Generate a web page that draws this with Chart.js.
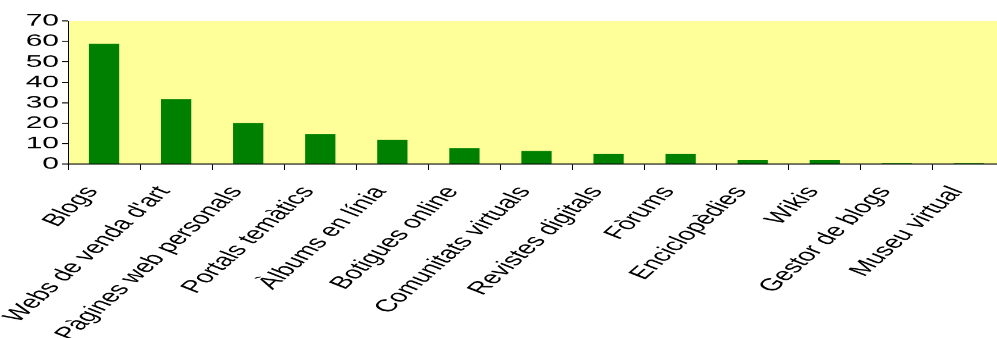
<!DOCTYPE html>
<html>
<head>
<meta charset="utf-8">
<script src="https://cdn.jsdelivr.net/npm/chart.js@4/dist/chart.umd.min.js"></script>
<style>
html,body{margin:0;padding:0;background:#fff;overflow:hidden;}
#outer{width:997px;height:338px;overflow:hidden;position:relative;}
#wrap{width:1005px;height:581px;transform:scaleY(0.58176);transform-origin:0 0;}
canvas{display:block;}
</style>
</head>
<body>
<div id="outer"><div id="wrap"><canvas id="c" width="1005" height="581"></canvas></div></div>
<script>
const categories = ["Blogs","Webs de venda d'art","Pàgines web personals","Portals temàtics","Àlbums en línia","Botigues online","Comunitats virtuals","Revistes digitals","Fòrums","Enciclopèdies","Wikis","Gestor de blogs","Museu virtual"];
const values = [58.8, 31.8, 20.1, 14.7, 11.8, 7.8, 6.4, 4.9, 4.9, 2.0, 2.0, 0.5, 0.5];
const yTicks = [0,10,20,30,40,50,60,70];

const H = 581;
const bgPlugin = {
  id:'bg',
  beforeDraw(chart){
    const {ctx, chartArea:a} = chart;
    ctx.save();
    ctx.fillStyle = '#FFFF99';
    ctx.fillRect(a.left, a.top, a.right-a.left, a.bottom-a.top);
    ctx.restore();
  }
};
const FONT = '"Liberation Sans", Arial, sans-serif';

new Chart(document.getElementById('c'), {
  type:'bar',
  data:{labels:categories, datasets:[{data:values, backgroundColor:'#008000', borderWidth:0, barPercentage:0.84, categoryPercentage:0.5}]},
  options:{
    responsive:false, animation:false, devicePixelRatio:1,
    layout:{padding:{top:36, left:0, right:0, bottom:0}},
    plugins:{legend:{display:false}, tooltip:{enabled:false}},
    scales:{
      x:{
        afterFit(s){ s.height = H - 36 - 246; s.paddingLeft = 0; s.paddingRight = 0; },
        grid:{display:true, drawOnChartArea:false, drawTicks:true, tickLength:10, color:'#000', lineWidth:1, offset:true},
        border:{display:true, color:'#000', width:1.7},
        ticks:{color:'#000', minRotation:56, maxRotation:56, autoSkip:false, labelOffset:-12, font:{family:FONT, size:30}, padding:22}
      },
      y:{
        min:0, max:70,
        afterFit(s){ s.width = 68; },
        afterBuildTicks(s){ s.ticks = yTicks.map(v=>({value:v})); },
        grid:{display:true, drawOnChartArea:false, drawTicks:true, tickLength:6, color:'#000', lineWidth:1.7},
        border:{display:true, color:'#000', width:1},
        ticks:{color:'#000', padding:3, autoSkip:false, font:{family:FONT, size:30}}
      }
    }
  },
  plugins:[bgPlugin]
});
</script>
</body>
</html>
